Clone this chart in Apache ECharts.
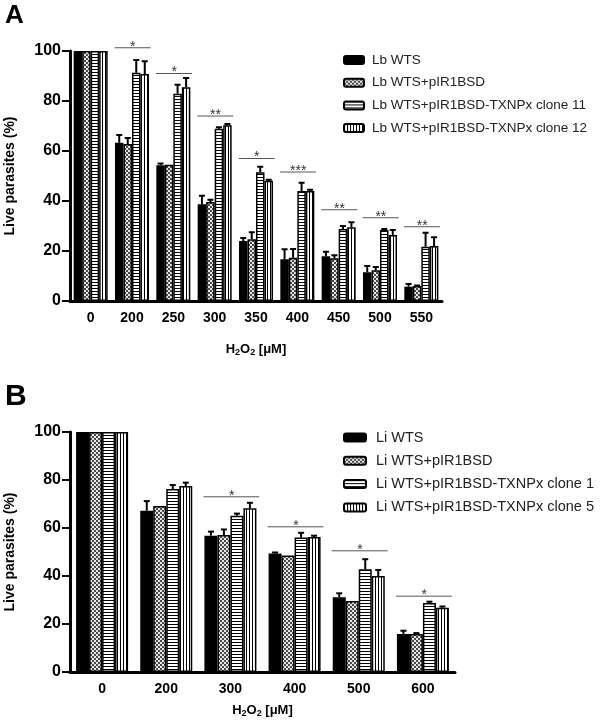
<!DOCTYPE html>
<html>
<head>
<meta charset="utf-8">
<script src="https://cdn.jsdelivr.net/npm/echarts@6/dist/echarts.min.js"></script>
<style>
html,body{margin:0;padding:0;background:#fff;}
#c{width:600px;height:721px;}
</style>
</head>
<body>
<div id="c"></div>
<script>
// ---------- Panel A data ----------
const catsA = ['0','200','250','300','350','400','450','500','550'];
const namesA = ['Lb WTS','Lb WTS+pIR1BSD','Lb WTS+pIR1BSD-TXNPx clone 11','Lb WTS+pIR1BSD-TXNPx clone 12'];
const lbWTS      = [100, 63.3, 54.3, 38.7, 24.0, 16.7, 17.9, 11.5, 5.7];
const lbWTSErr   = [0,   3.1,  0.7,  3.4,  1.2,  4.0,  1.8,  2.5,  1.1];
const lbPIR      = [100, 62.8, 54.5, 39.6, 24.7, 17.3, 17.1, 12.3, 6.0];
const lbPIRErr   = [0,   2.4,  0,    0.9,  2.8,  3.5,  1.2,  1.3,  0.2];
const lbC11      = [100, 91.3, 82.9, 68.9, 51.5, 44.0, 28.8, 28.4, 21.7];
const lbC11Err   = [0,   5.1,  3.6,  0.6,  2.2,  3.3,  1.2,  0.4,  5.6];
const lbC12      = [100, 90.8, 85.5, 70.3, 48.1, 44.0, 29.5, 26.4, 22.0];
const lbC12Err   = [0,   5.1,  3.7,  0.5,  0.4,  0.5,  2.0,  2.0,  3.5];
const sigCatsA   = [1, 2, 3, 4, 5, 6, 7, 8];
const sigYA      = [101.3, 91, 74, 57, 51.6, 36.5, 33.3, 29.7];
const sigLabelsA = ['*','*','**','*','***','**','**','**'];

// ---------- Panel B data ----------
const catsB = ['0','200','300','400','500','600'];
const namesB = ['Li WTS','Li WTS+pIR1BSD','Li WTS+pIR1BSD-TXNPx clone 1','Li WTS+pIR1BSD-TXNPx clone 5'];
const liWTS    = [100, 67.2, 56.8, 49.4, 31.1, 15.8];
const liWTSErr = [0,   4.0,  1.7,  0.4,  1.7,  1.4];
const liPIR    = [100, 69.2, 57.1, 48.5, 29.6, 15.8];
const liPIRErr = [0,   0,    2.3,  0,    0,    0.4];
const liC1     = [100, 76.2, 65.1, 56.0, 42.8, 28.8];
const liC1Err  = [0,   1.7,  0.9,  2.0,  4.2,  0.5];
const liC5     = [100, 77.5, 68.2, 56.3, 40.0, 26.8];
const liC5Err  = [0,   1.4,  2.3,  0.5,  2.5,  0.5];
const sigCatsB   = [2, 3, 4, 5];
const sigYB      = [73, 60.5, 50.5, 31.6];
const sigLabelsB = ['*','*','*','*'];

const yTicks = [0, 20, 40, 60, 80, 100];

// ---------- patterns ----------
function makePattern(kind, s) {
  const c = document.createElement('canvas');
  const ctx = c.getContext('2d');
  if (kind === 'checker') {
    c.width = 2 * s; c.height = 2 * s;
    ctx.fillStyle = '#e6e6e6'; ctx.fillRect(0, 0, 2 * s, 2 * s);
    ctx.fillStyle = '#4a4a4a'; ctx.fillRect(0, 0, s, s); ctx.fillRect(s, s, s, s);
  } else if (kind === 'h') {
    c.width = 4; c.height = 3;
    ctx.fillStyle = '#fff'; ctx.fillRect(0, 0, 4, 3);
    ctx.fillStyle = '#000'; ctx.fillRect(0, 0, 4, 1);
  } else {
    c.width = 3; c.height = 4;
    ctx.fillStyle = '#fff'; ctx.fillRect(0, 0, 3, 4);
    ctx.fillStyle = '#000'; ctx.fillRect(0, 0, 1, 4);
  }
  return { image: c, repeat: 'repeat' };
}

const FONT = 'Liberation Sans, Arial, sans-serif';

function buildPanel(idx, cats, names, vals, errs, sigCats, sigY, sigLabels, barW, checkSize) {
  const fills = ['#000', makePattern('checker', checkSize), makePattern('h'), makePattern('v')];
  const series = [];
  names.forEach((n, k) => {
    series.push({
      name: n, type: 'bar', xAxisIndex: idx, yAxisIndex: idx,
      data: vals[k], barWidth: barW, barGap: '0%',
      itemStyle: { color: fills[k], borderColor: '#000', borderWidth: 1.5 },
      emphasis: { disabled: true }, animation: false, z: 2
    });
  });
  names.forEach((n, k) => {
    const off = (k - 1.5) * barW;
    series.push({
      type: 'custom', xAxisIndex: idx, yAxisIndex: idx, z: 5, silent: true, animation: false,
      data: vals[k].map((v, i) => [i, v, errs[k][i]]),
      encode: { x: 0, y: 1 },
      renderItem: function (params, api) {
        const ci = api.value(0), v = api.value(1), e = api.value(2);
        if (!e) return null;
        const b = api.coord([ci, v]);
        const t = api.coord([ci, v + e]);
        const x = b[0] + off;
        return {
          type: 'group', children: [
            { type: 'line', shape: { x1: x, y1: b[1], x2: x, y2: t[1] }, style: { stroke: '#000', lineWidth: 2 } },
            { type: 'line', shape: { x1: x - 3, y1: t[1], x2: x + 3, y2: t[1] }, style: { stroke: '#000', lineWidth: 2 } }
          ]
        };
      }
    });
  });
  series.push({
    type: 'custom', xAxisIndex: idx, yAxisIndex: idx, z: 6, silent: true, animation: false,
    data: sigCats.map((c, i) => [c, sigY[i]]),
    encode: { x: 0, y: 1 },
    renderItem: function (params, api) {
      const p = api.coord([api.value(0), api.value(1)]);
      const bw = api.size([1, 0])[0];
      return {
        type: 'group', children: [
          { type: 'line', shape: { x1: p[0] - 0.42 * bw, y1: p[1], x2: p[0] + 0.45 * bw, y2: p[1] },
            style: { stroke: '#555', lineWidth: 1 } },
          { type: 'text', style: { x: p[0] + 0.02 * bw, y: p[1] - 1, text: sigLabels[params.dataIndex],
              textAlign: 'center', textVerticalAlign: 'middle', font: '14px ' + FONT, fill: '#333' } }
        ]
      };
    }
  });
  return series;
}

function xAxis(idx, cats, gap) {
  return {
    type: 'category', gridIndex: idx, data: cats,
    axisLine: { lineStyle: { color: '#000', width: 3 } },
    axisTick: { alignWithLabel: true, length: 6, lineStyle: { color: '#000', width: 2 } },
    axisLabel: { color: '#000', fontWeight: 'bold', fontSize: 14, fontFamily: FONT, margin: 10 },
    name: '{b|H}{s|2}{b|O}{s|2}{b| [μM]}', nameLocation: 'middle', nameGap: gap,
    nameTextStyle: { rich: {
      b: { fontWeight: 'bold', fontSize: 13, fontFamily: FONT, color: '#000' },
      s: { fontWeight: 'bold', fontSize: 9, fontFamily: FONT, color: '#000', verticalAlign: 'bottom', padding: [6, 0, 0, 0] }
    } }
  };
}
function yAxis(idx) {
  return {
    type: 'value', gridIndex: idx, min: yTicks[0], max: yTicks[yTicks.length - 1], interval: 20,
    splitLine: { show: false },
    axisLine: { show: true, lineStyle: { color: '#000', width: 3 } },
    axisTick: { show: true, length: 8, lineStyle: { color: '#000', width: 2 } },
    axisLabel: { color: '#000', fontWeight: 'bold', fontSize: 16, fontFamily: FONT, margin: 9 },
    name: 'Live parasites (%)', nameLocation: 'middle', nameGap: 53, nameRotate: 90,
    nameTextStyle: { fontWeight: 'bold', fontSize: 14, fontFamily: FONT, color: '#000' }
  };
}

const seriesA = buildPanel(0, catsA, namesA, [lbWTS, lbPIR, lbC11, lbC12],
  [lbWTSErr, lbPIRErr, lbC11Err, lbC12Err], sigCatsA, sigYA, sigLabelsA, 8.5, 2);
const seriesB = buildPanel(1, catsB, namesB, [liWTS, liPIR, liC1, liC5],
  [liWTSErr, liPIRErr, liC1Err, liC5Err], sigCatsB, sigYB, sigLabelsB, 13, 2);

const chart = echarts.init(document.getElementById('c'), null, { renderer: 'canvas' });
chart.setOption({
  animation: false,
  title: [
    { text: 'A', left: 0, top: -2, textStyle: { fontSize: 26, fontWeight: 'bold', fontFamily: FONT, color: '#000' } },
    { text: 'B', left: 0, top: 377, textStyle: { fontSize: 30, fontWeight: 'bold', fontFamily: FONT, color: '#000' } }
  ],
  legend: [
    { data: namesA, orient: 'vertical', left: 338, top: 48, icon: 'roundRect', itemWidth: 20, itemHeight: 8, itemGap: 8.7,
      textStyle: { fontSize: 13.5, fontFamily: FONT, color: '#222', padding: [0, 0, 0, 3] }, selectedMode: false },
    { data: namesB, orient: 'vertical', left: 338, top: 425, icon: 'roundRect', itemWidth: 22, itemHeight: 8, itemGap: 8.3,
      textStyle: { fontSize: 14.5, fontFamily: FONT, color: '#222', padding: [0, 0, 0, 5] }, selectedMode: false }
  ],
  grid: [
    { left: 70, top: 51, width: 372, height: 250, containLabel: false, outerBoundsMode: 'none' },
    { left: 70, top: 432, width: 385, height: 240, containLabel: false, outerBoundsMode: 'none' }
  ],
  xAxis: [xAxis(0, catsA, 41), xAxis(1, catsB, 31)],
  yAxis: [yAxis(0), yAxis(1)],
  series: seriesA.concat(seriesB)
});
</script>
</body>
</html>
